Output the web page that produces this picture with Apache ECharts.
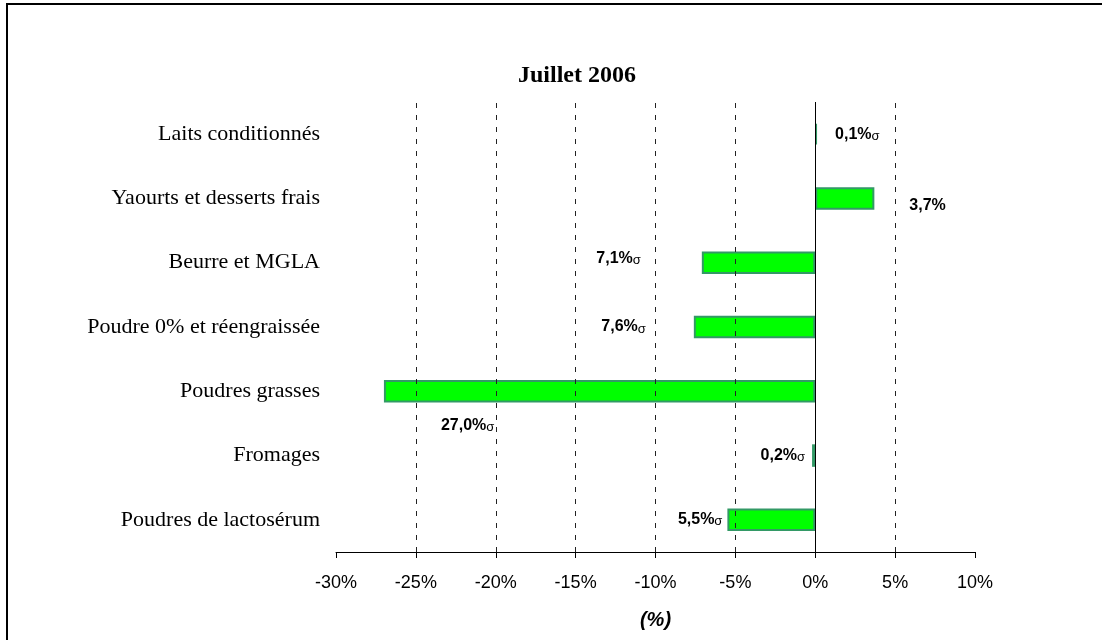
<!DOCTYPE html>
<html>
<head>
<meta charset="utf-8">
<script src="https://cdn.jsdelivr.net/npm/echarts@6/dist/echarts.min.js"></script>
<style>
  html, body { margin: 0; padding: 0; background: #fff; }
  #main { width: 1102px; height: 640px; }
</style>
</head>
<body>
<div id="main"></div>
<script>
// categories from bottom to top (category axis starts at the bottom)
var categories = ['Poudres de lactosérum', 'Fromages', 'Poudres grasses',
  'Poudre 0% et réengraissée', 'Beurre et MGLA', 'Yaourts et desserts frais', 'Laits conditionnés'];
var values = [-5.5, -0.2, -27.0, -7.6, -7.1, 3.7, 0.1];
var labelTexts = ['5,5%', '0,2%', '27,0%', '7,6%', '7,1%', '3,7%', '0,1%'];
var labelArrow = [true, true, true, true, true, false, true];
var gridValues = [-25, -20, -15, -10, -5, 5];

// label placement per bar (as positioned in the original)
var labelPlace = [
  { position: 'left', distance: 5, offset: [0, 0] },
  { position: 'left', distance: 7, offset: [0, 0] },
  { position: 'insideLeft', distance: 57, offset: [0, 34] },
  { position: 'left', distance: 48, offset: [0, 0] },
  { position: 'left', distance: 61, offset: [0, -4] },
  { position: 'right', distance: 35, offset: [0, 7] },
  { position: 'right', distance: 18, offset: [0, 0] }
];

var chart = echarts.init(document.getElementById('main'));

var barData = values.map(function (v, i) {
  var p = labelPlace[i];
  return {
    value: v,
    label: {
      show: true,
      position: p.position,
      distance: p.distance,
      offset: p.offset,
      formatter: '{a|' + labelTexts[i] + '}' + (labelArrow[i] ? '{b|σ}' : '')
    }
  };
});

var markLines = gridValues.map(function (v) {
  return { xAxis: v, lineStyle: { type: [5, 7], color: '#222', width: 1 } };
});
markLines.push({ xAxis: 0, lineStyle: { type: 'solid', color: '#000', width: 1 } });

var option = {
  animation: false,
  backgroundColor: '#fff',
  title: {
    text: 'Juillet 2006',
    left: 572,
    textAlign: 'center',
    top: 59,
    textStyle: { fontFamily: 'Liberation Serif', fontWeight: 'bold', fontSize: 24, color: '#000' }
  },
  graphic: [{
    type: 'rect',
    shape: { x: 7, y: 4, width: 1200, height: 800 },
    style: { fill: 'none', stroke: '#000', lineWidth: 2 },
    silent: true
  }],
  grid: { left: 336, right: 127, top: 102, bottom: 88 },
  xAxis: {
    type: 'value',
    min: -30,
    max: 10,
    interval: 5,
    name: '(%)',
    nameLocation: 'middle',
    nameGap: 58,
    nameTextStyle: { fontFamily: 'Liberation Sans', fontWeight: 'bold', fontStyle: 'italic', fontSize: 20, color: '#000' },
    axisLine: { show: true, lineStyle: { color: '#000', width: 1 } },
    axisTick: { show: true, length: 6, lineStyle: { color: '#000' } },
    axisLabel: { formatter: '{value}%', fontFamily: 'Liberation Sans', fontSize: 18, color: '#000', margin: 22 },
    splitLine: { show: false }
  },
  yAxis: {
    type: 'category',
    data: categories,
    axisLine: { show: false },
    axisTick: { show: false },
    axisLabel: { fontFamily: 'Liberation Serif', fontSize: 22, color: '#000', margin: 16 },
    splitLine: { show: false }
  },
  series: [{
    type: 'bar',
    data: barData,
    barWidth: '35%',
    itemStyle: { color: '#00ff00', borderColor: '#339966', borderWidth: 2 },
    label: {
      rich: {
        a: { fontFamily: 'Liberation Sans', fontWeight: 'bold', fontSize: 16, color: '#000' },
        b: { fontFamily: 'Liberation Sans', fontSize: 13, color: '#000', padding: [4, 0, 0, 0] }
      }
    },
    markLine: {
      silent: true,
      symbol: 'none',
      label: { show: false },
      data: markLines
    },
    z: 3
  }]
};

chart.setOption(option);
</script>
</body>
</html>
